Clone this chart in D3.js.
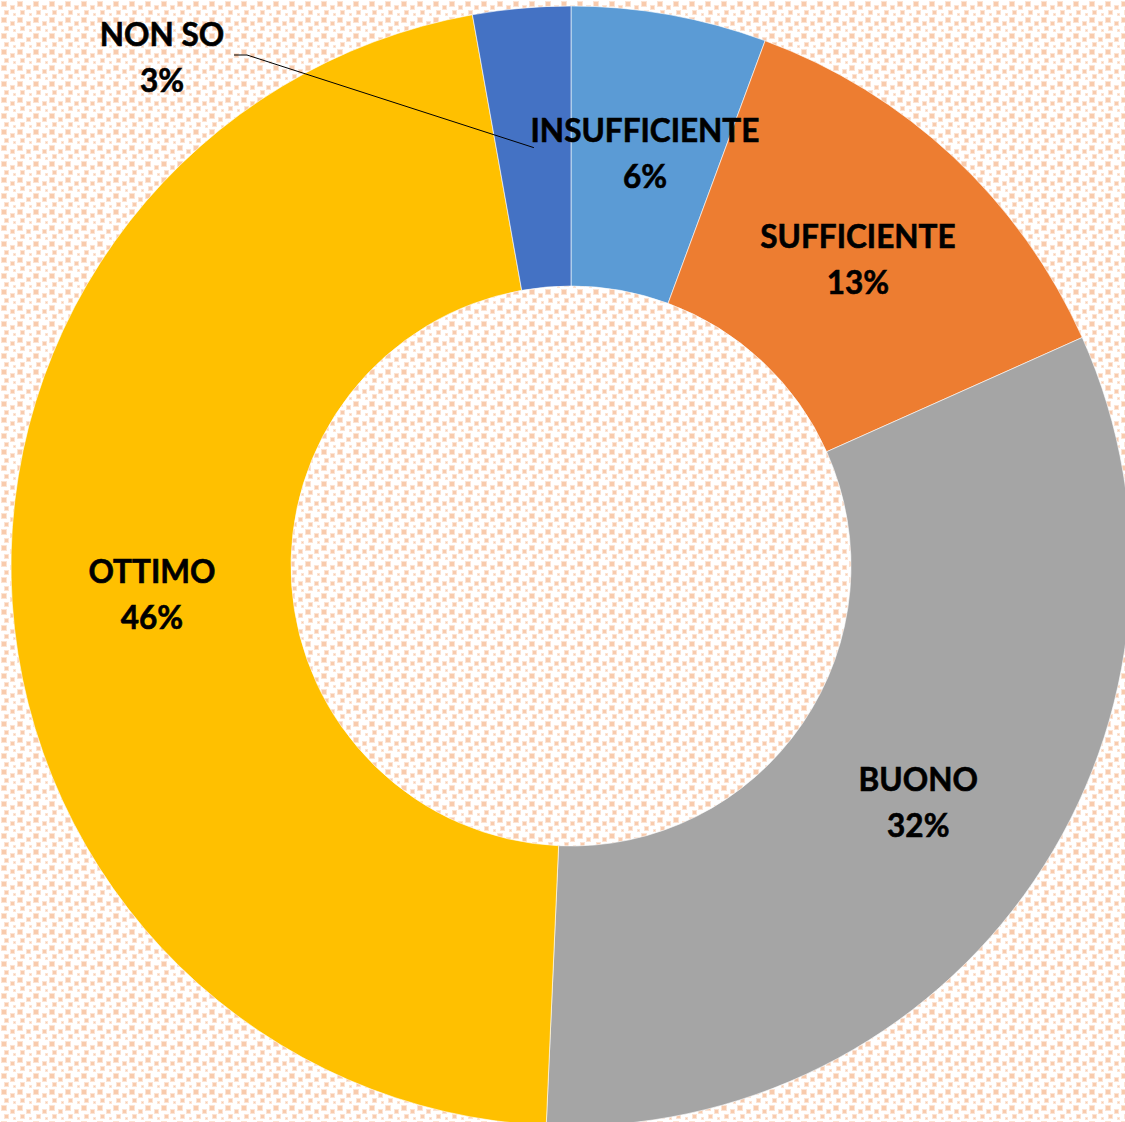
<!DOCTYPE html>
<html>
<head>
<meta charset="utf-8">
<script src="https://cdn.jsdelivr.net/npm/d3@7"></script>
<style>
  html, body { margin: 0; padding: 0; background: #fff; }
  #chart { width: 1125px; height: 1122px; overflow: hidden; }
</style>
</head>
<body>
<div id="chart"></div>
<script>
(function () {
  // data (counts of answers, labels show rounded shares)
  const categories = ["INSUFFICIENTE", "SUFFICIENTE", "BUONO", "OTTIMO", "NON SO"];
  const counts = [4, 9, 23, 33, 2];
  const colors = ["#5B9BD5", "#ED7D31", "#A5A5A5", "#FFC000", "#4472C4"];

  const width = 1125;
  const height = 1122;
  const cx = 571, cy = 566;
  const outerR = 560, innerR = 280, labelR = 420;

  const svg = d3
    .select("#chart")
    .append("svg")
    .attr("width", width)
    .attr("height", height);

  // confetti-like background pattern
  const defs = svg.append("defs");
  const pat = defs.append("pattern")
    .attr("id", "bg")
    .attr("patternUnits", "userSpaceOnUse")
    .attr("width", 16)
    .attr("height", 16);
  pat.append("rect").attr("width", 16).attr("height", 16).attr("fill", "#ffffff");
  const sq = [[1, 1, 6], [10, 5, 5], [4, 10, 5], [13, 13, 3]];
  sq.forEach(([x, y, s]) => {
    pat.append("rect").attr("x", x).attr("y", y).attr("width", s).attr("height", s)
      .attr("fill", "#FCE4D4");
    pat.append("rect").attr("x", x + 1).attr("y", y + 1).attr("width", s - 2).attr("height", s - 2)
      .attr("fill", "#F8CBAD");
  });
  svg.append("rect").attr("width", width).attr("height", height).attr("fill", "url(#bg)");

  const g = svg.append("g").attr("transform", `translate(${cx},${cy})`);

  const total = d3.sum(counts);
  const pie = d3.pie().sort(null).value((d) => d)(counts);

  const arc = d3.arc().innerRadius(innerR).outerRadius(outerR);
  const labelArc = d3.arc().innerRadius(labelR).outerRadius(labelR);

  g.selectAll("path.slice")
    .data(pie)
    .join("path")
    .attr("class", "slice")
    .attr("d", arc)
    .attr("fill", (d, i) => colors[i])
    .attr("stroke", "#ffffff")
    .attr("stroke-width", 0.6);

  // NON SO label is moved outside the ring with a leader line
  const movedIdx = 4;
  const movedPos = [162 - cx, 57 - cy];
  const end = labelArc.centroid(pie[movedIdx]);
  g.append("polyline")
    .attr("points", [[movedPos[0] + 72, 55 - cy], [movedPos[0] + 85, 55 - cy], end].map((p) => p.join(",")).join(" "))
    .attr("fill", "none")
    .attr("stroke", "#000")
    .attr("stroke-width", 1);

  const labels = g.selectAll("g.lbl")
    .data(pie)
    .join("g")
    .attr("class", "lbl")
    .attr("transform", (d, i) => {
      const p = i === movedIdx ? movedPos : labelArc.centroid(d);
      return `translate(${p[0]},${p[1] + 1})`;
    });

  labels.append("text")
    .attr("text-anchor", "middle")
    .attr("font-family", "Lato, 'Open Sans', sans-serif")
    .attr("font-weight", "bold")
    .attr("font-size", 31.5)
    .attr("fill", "#000")
    .attr("stroke", "#000")
    .attr("stroke-width", 0.6)
    .each(function (d, i) {
      const t = d3.select(this);
      t.append("tspan").attr("x", 0).attr("y", -23).attr("dy", "0.35em").text(categories[i]);
      t.append("tspan").attr("x", 0).attr("y", 23).attr("dy", "0.35em")
        .text(Math.round((d.value / total) * 100) + "%");
    });
})();
</script>
</body>
</html>
